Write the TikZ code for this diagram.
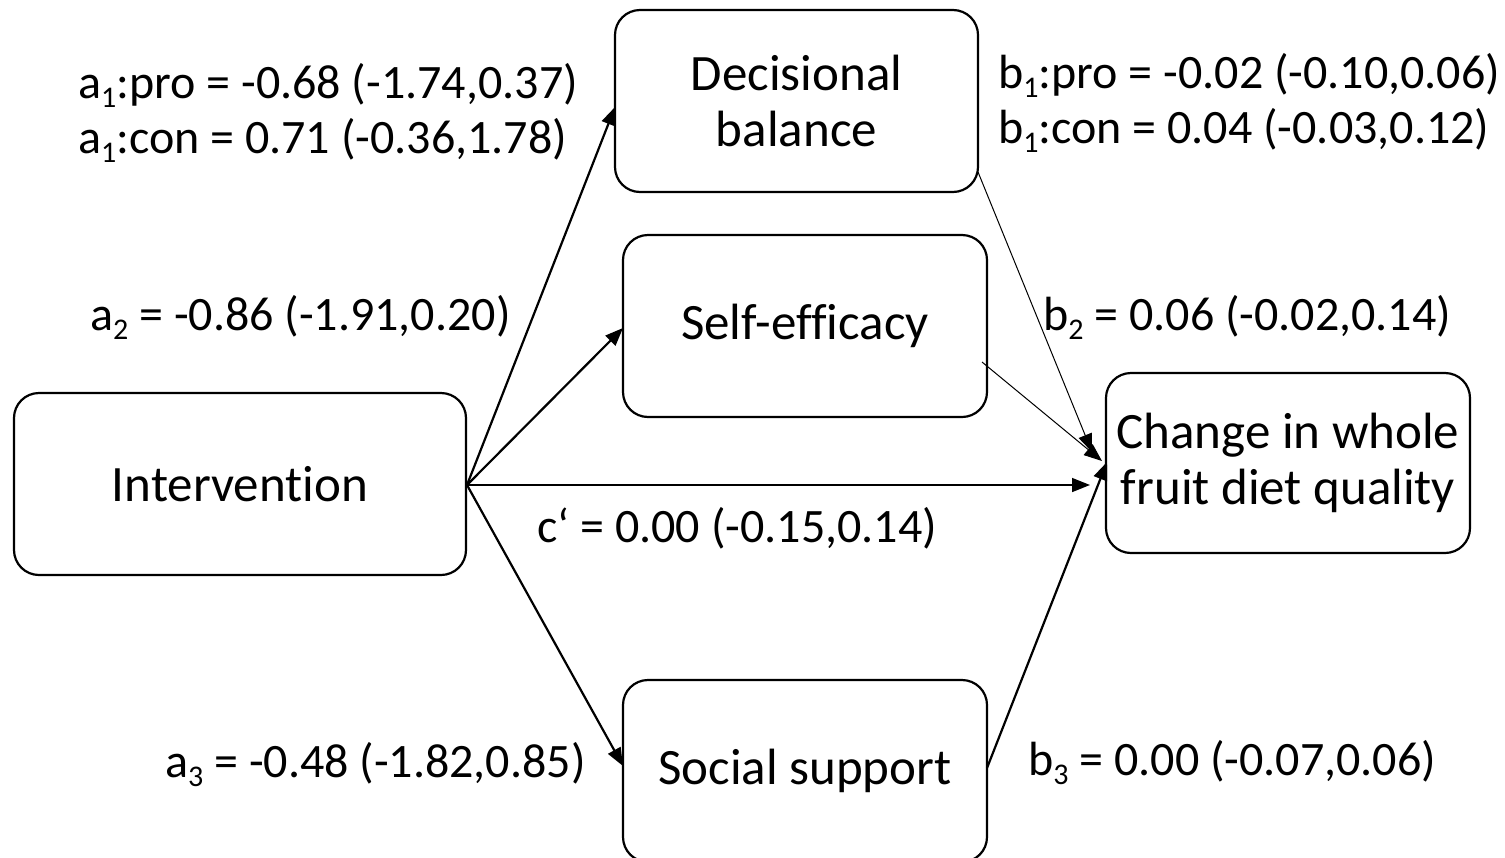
\documentclass[tikz,border=0pt]{standalone}
\usepackage{fontspec}
\setmainfont{Carlito}[Ligatures=NoCommon]
\usetikzlibrary{arrows.meta}
\newcommand{\mysub}[1]{\raisebox{-9pt}{\fontsize{30}{30}\selectfont #1}}
\begin{document}
\begin{tikzpicture}[x=1pt,y=-1pt,
  box/.style={draw, line width=2.2pt, rounded corners=25pt, align=center, inner sep=0pt,
    font=\fontsize{51}{56}\selectfont},
  lbl/.style={anchor=base west, inner sep=0pt, align=left, font=\fontsize{48}{55}\selectfont},
  thickarrow/.style={line width=2.2pt, -{Triangle[length=18pt,width=14pt]}},
  midarrow/.style={line width=1.5pt, -{Triangle[length=18pt,width=14pt]}},
  thinarrow/.style={line width=1pt, -{Triangle[length=18pt,width=14pt]}}]
\useasboundingbox (0,0) rectangle (1505,857);
\fill[white] (0,0) rectangle (1505,857);
\begin{scope}
\clip (0,0) rectangle (1505,857);
\node[box, minimum width=452pt, minimum height=182pt] (int) at (240,484) {Intervention};
\node[box, minimum width=363pt, minimum height=182pt] (dec) at (796.5,101) {Decisional\\balance};
\node[box, minimum width=364pt, minimum height=182pt] (self) at (805,326) {Self-efficacy};
\node[box, minimum width=364pt, minimum height=182pt] (soc) at (805,771) {Social support};
\node[box, minimum width=364pt, minimum height=180pt] (chg) at (1288,463) {Change in whole\\fruit diet quality};
\end{scope}

\coordinate (io) at (467,485);
\coordinate (decin) at (615,107);
\coordinate (selfin) at (623,328);
\coordinate (socin) at (623,766);
\coordinate (decout) at (978,172);
\coordinate (selfout) at (982,362);
\coordinate (socout) at (987,768);
\coordinate (t1) at (1092,452);
\coordinate (t2) at (1102,461);
\coordinate (t3) at (1107,462);
\coordinate (t0) at (1090,485);

\draw[thickarrow] (io) -- (decin);
\draw[thickarrow] (io) -- (selfin);
\draw[thickarrow] (io) -- (socin);
\draw[midarrow] (io) -- (t0);
\draw[thinarrow] (decout) -- (t1);
\draw[thinarrow] (selfout) -- (t2);
\draw[thickarrow] (socout) -- (t3);

\node[lbl] (la1p) at (78,98) {a\mysub{1}:pro = -0.68 (-1.74,0.37)};
\node[lbl] (la1c) at (78,153) {a\mysub{1}:con = 0.71 (-0.36,1.78)};
\node[lbl] (lb1p) at (998,88) {b\mysub{1}:pro = -0.02 (-0.10,0.06)};
\node[lbl] (lb1c) at (998,143) {b\mysub{1}:con = 0.04 (-0.03,0.12)};
\node[lbl] (la2) at (90,330) {a\mysub{2} = -0.86 (-1.91,0.20)};
\node[lbl] (lb2) at (1043,330) {b\mysub{2} = 0.06 (-0.02,0.14)};
\node[lbl] (lc) at (537,542) {c‘ = 0.00 (-0.15,0.14)};
\node[lbl] (la3) at (165,777) {a\mysub{3} = -0.48 (-1.82,0.85)};
\node[lbl] (lb3) at (1028,775) {b\mysub{3} = 0.00 (-0.07,0.06)};
\end{tikzpicture}
\end{document}
